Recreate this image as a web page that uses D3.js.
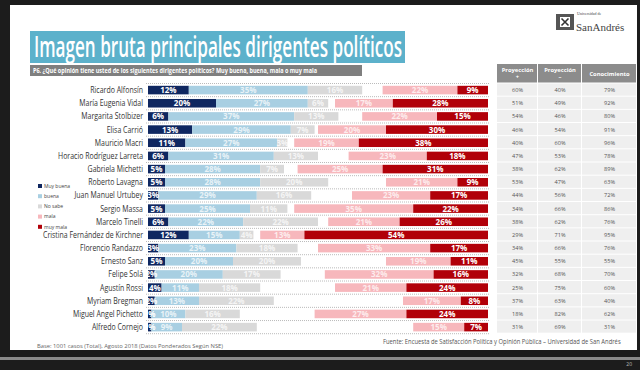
<!DOCTYPE html>
<html>
<head>
<meta charset="utf-8" />
<script src="https://cdn.jsdelivr.net/npm/d3@7"></script>
<style>
  body { margin: 0; background: #1c1c1c; }
  svg { display: block; font-family: "Segoe UI", "Open Sans", sans-serif; }
</style>
</head>
<body>
<svg id="chart" width="640" height="370"></svg>
<script>
// politicians, top to bottom
const names = ["Ricardo Alfonsín", "María Eugenia Vidal", "Margarita Stolbizer", "Elisa Carrió",
  "Mauricio Macri", "Horacio Rodríguez Larreta", "Gabriela Michetti", "Roberto Lavagna",
  "Juan Manuel Urtubey", "Sergio Massa", "Marcelo Tinelli", "Cristina Fernández de Kirchner",
  "Florencio Randazzo", "Ernesto Sanz", "Felipe Solá", "Agustín Rossi", "Myriam Bregman",
  "Miguel Angel Pichetto", "Alfredo Cornejo"];

const muyBuena = [12, 20, 6, 13, 11, 6, 5, 5, 3, 5, 6, 12, 3, 5, 2, 4, 2, 1, 1];
const buena    = [35, 27, 37, 29, 27, 31, 28, 28, 29, 25, 22, 15, 23, 20, 20, 11, 13, 10, 9];
const noSabe   = [16, 6, 13, 7, 3, 13, 7, 20, 16, 11, 22, 4, 18, 20, 17, 18, 22, 16, 22];
const mala     = [22, 17, 22, 20, 19, 23, 25, 21, 23, 35, 21, 13, 33, 19, 32, 21, 17, 27, 15];
const muyMala  = [9, 28, 15, 30, 38, 18, 31, 9, 17, 22, 26, 54, 17, 11, 16, 24, 8, 24, 7];

// table on the right
const proyPos = [60, 51, 54, 46, 40, 47, 38, 53, 44, 34, 38, 29, 34, 45, 32, 25, 37, 18, 31];
const proyNeg = [40, 49, 46, 54, 60, 53, 62, 47, 56, 66, 62, 71, 66, 55, 68, 75, 63, 82, 69];
const conoc   = [79, 92, 80, 91, 96, 78, 89, 63, 72, 86, 76, 95, 76, 55, 70, 60, 40, 62, 31];

const legendLabels = ["Muy buena", "buena", "No sabe", "mala", "muy mala"];
const colors = ["#0f2760", "#a8cfe2", "#d9d9d9", "#f7b7bc", "#b10009"];

const svg = d3.select("#chart");

// slide
svg.append("rect").attr("x", 10).attr("y", 5).attr("width", 627).attr("height", 345).attr("fill", "#fff");
svg.append("rect").attr("x", 0).attr("y", 357).attr("width", 640).attr("height", 3).attr("fill", "#8a8a8a");
svg.append("text").attr("x", 632).attr("y", 366).attr("text-anchor", "end")
  .attr("font-size", 5).attr("fill", "#bbb").text("20");

// title
svg.append("rect").attr("x", 30).attr("y", 31).attr("width", 375).attr("height", 32).attr("fill", "#5cb1cb");
svg.append("text").attr("x", 34).attr("y", 56.5).attr("font-size", 28).attr("font-weight", 600)
  .attr("fill", "#fff").attr("textLength", 368).attr("lengthAdjust", "spacingAndGlyphs")
  .text("Imagen bruta principales dirigentes políticos");
svg.append("rect").attr("x", 30).attr("y", 65).attr("width", 332).attr("height", 11).attr("fill", "#7f7f7f");
svg.append("text").attr("x", 33).attr("y", 73).attr("font-size", 6.6).attr("font-weight", 700)
  .attr("fill", "#fff").attr("textLength", 284).attr("lengthAdjust", "spacingAndGlyphs")
  .text("P6. ¿Qué opinión tiene usted de los siguientes dirigentes políticos? Muy buena, buena, mala o muy mala");

// logo
const logo = svg.append("g").attr("transform", "translate(556,14)");
logo.append("rect").attr("x", 0).attr("y", 0).attr("width", 18).attr("height", 16).attr("fill", "#555");
logo.append("rect").attr("x", 4).attr("y", 3).attr("width", 10).attr("height", 10).attr("fill", "#fff");
logo.append("path").attr("d", "M5.5,4.5 L12.5,11.5 M12.5,4.5 L5.5,11.5").attr("stroke", "#333").attr("stroke-width", 1.6);
logo.append("text").attr("x", 21).attr("y", 1).attr("font-size", 4).attr("fill", "#444")
  .attr("font-family", "Liberation Serif, serif").text("Universidad de");
logo.append("text").attr("x", 20).attr("y", 17).attr("font-size", 11).attr("fill", "#444")
  .attr("font-family", "Liberation Serif, serif").text("SanAndrés");

// scales
const x = d3.scaleLinear().domain([0, 100]).range([148, 488]);
const y = d3.scaleBand().domain(names).range([83.5, 333.7]).paddingInner(0.35).paddingOuter(0.175);
const step = y.step();

// row separators (dotted)
svg.append("g").selectAll("line").data(d3.range(names.length + 1)).join("line")
  .attr("x1", x(0) - 2).attr("x2", x(100) + 2)
  .attr("y1", i => y.range()[0] + i * step).attr("y2", i => y.range()[0] + i * step)
  .attr("stroke", "#aaa").attr("stroke-width", 0.8).attr("stroke-dasharray", "1,1");

// build segments: positives from the left, negatives from the right
const rows = names.map((n, i) => {
  const vals = [muyBuena[i], buena[i], noSabe[i], mala[i], muyMala[i]];
  const starts = [0, vals[0], vals[0] + vals[1], 100 - vals[4] - vals[3], 100 - vals[4]];
  return vals.map((v, k) => ({ name: n, k: k, v: v, x0: starts[k], x1: starts[k] + v }));
});
const segs = rows.flat();

svg.append("g").selectAll("rect").data(segs).join("rect")
  .attr("x", d => x(d.x0)).attr("width", d => x(d.x1) - x(d.x0))
  .attr("y", d => y(d.name)).attr("height", y.bandwidth())
  .attr("fill", d => colors[d.k]);

svg.append("g").selectAll("text").data(segs).join("text")
  .attr("x", d => (x(d.x0) + x(d.x1)) / 2)
  .attr("y", d => y(d.name) + y.bandwidth() / 2 + 3)
  .attr("text-anchor", "middle").attr("font-size", 8).attr("font-weight", 700)
  .attr("fill", "#fff").attr("fill-opacity", d => (d.k === 0 || d.k === 4) ? 1 : 0.75)
  .text(d => d.v + "%");

// category labels (squeezed a little, like the slide)
svg.append("g").selectAll("text").data(names).join("text")
  .attr("transform", d => `translate(143,${y(d) + y.bandwidth() / 2 + 3}) scale(0.82,1)`)
  .attr("text-anchor", "end").attr("font-size", 8.5).attr("fill", "#333")
  .text(d => d);

// legend
const lg = svg.append("g").attr("transform", "translate(38,186)");
legendLabels.forEach((l, i) => {
  lg.append("rect").attr("x", 0).attr("y", i * 10.2 - 2).attr("width", 4).attr("height", 4).attr("fill", colors[i]);
  lg.append("text").attr("x", 6).attr("y", i * 10.2 + 1.8).attr("font-size", 5).attr("fill", "#444").text(l);
});

// table
const colX = [497, 538, 582, 637];
const headers = [["Proyección", "+"], ["Proyección", "–"], ["Conocimiento"]];
const tableTop = 64, headBottom = y.range()[0];
const tbl = svg.append("g");
headers.forEach((h, c) => {
  tbl.append("rect").attr("x", colX[c]).attr("y", tableTop).attr("width", colX[c + 1] - colX[c] - 1)
    .attr("height", headBottom - tableTop - 1).attr("fill", "#8c8c8c");
  const cx = (colX[c] + colX[c + 1]) / 2;
  const t = tbl.append("text").attr("text-anchor", "middle").attr("font-size", 5.8)
    .attr("font-weight", 700).attr("fill", "#fff");
  if (h.length === 2) {
    t.append("tspan").attr("x", cx).attr("y", tableTop + 8).text(h[0]);
    t.append("tspan").attr("x", cx).attr("y", tableTop + 15).text(h[1]);
  } else {
    t.append("tspan").attr("x", cx).attr("y", tableTop + 12).text(h[0]);
  }
});
const tableCols = [proyPos, proyNeg, conoc];
tableCols.forEach((col, c) => {
  const cx = (colX[c] + colX[c + 1]) / 2;
  tbl.append("g").selectAll("rect").data(names).join("rect")
    .attr("x", colX[c]).attr("width", colX[c + 1] - colX[c] - 1)
    .attr("y", d => y(d) - y.paddingOuter() * step).attr("height", step - 1)
    .attr("fill", "#efefef");
  tbl.append("g").selectAll("text").data(col).join("text")
    .attr("x", cx).attr("y", (d, i) => y(names[i]) + y.bandwidth() / 2 + 2)
    .attr("text-anchor", "middle").attr("font-size", 5.6).attr("fill", "#555")
    .text(d => d + "%");
});

// footers
svg.append("text").attr("x", 37).attr("y", 348).attr("font-size", 5.6).attr("fill", "#666")
  .attr("textLength", 186).attr("lengthAdjust", "spacingAndGlyphs")
  .text("Base: 1001 casos (Total), Agosto 2018 (Datos Ponderados Según NSE)");
svg.append("text").attr("transform", "translate(383,344) scale(0.9,1)")
  .attr("font-size", 6.5).attr("fill", "#555")
  .text("Fuente: Encuesta de Satisfacción Política y Opinión Pública – Universidad de San Andrés");
</script>
</body>
</html>
